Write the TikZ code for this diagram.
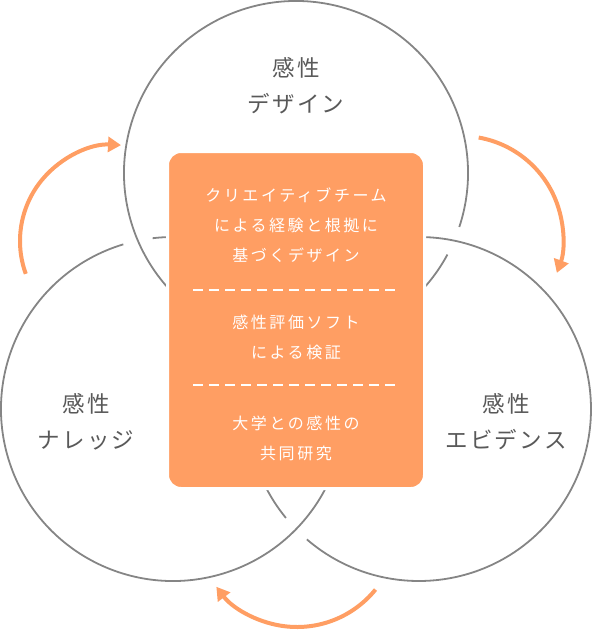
\documentclass[tikz,border=0pt]{standalone}
\usepackage{fontspec}
\setmainfont{Noto Sans CJK JP}
\newfontfamily\boxfont[LetterSpace=16]{Noto Sans CJK JP}
\newfontfamily\ringfont[LetterSpace=10]{Noto Sans CJK JP}
\usetikzlibrary{calc,arrows.meta}
\definecolor{ringgray}{HTML}{858585}
\definecolor{labelgray}{HTML}{595959}
\definecolor{kansei}{HTML}{FF9E63}
\def\ringarc[#1](#2)(#3:#4:#5){\draw[#1] ($(#2)+(#3:#5)$) arc[start angle=#3, end angle=#4, radius=#5];}

\begin{document}
\begin{tikzpicture}[x=1pt, y=1pt,
    ring/.style={draw=ringgray, line width=1.8pt},
    cycle/.style={draw=kansei, line width=4pt, -{Triangle[length=13pt, width=15pt]}},
    panel/.style={fill=kansei, draw=white, line width=3pt, rounded corners=13.5pt,
        minimum width=257pt, minimum height=337pt},
    panelsep/.style={draw=white, line width=1.4pt, dash pattern=on 10pt off 6pt},
    paneltext/.style={text=white, align=center, font=\boxfont\fontsize{16}{30}\selectfont},
    ringlabel/.style={text=labelgray, align=center, font=\ringfont\fontsize{22.5}{36}\selectfont}]
			%%%%% START %%%%%
			\useasboundingbox (0, 0) rectangle (592, -630);
			
			\coordinate (cTop) at (296, -173);
			\coordinate (cLeft) at (173, -409);
			\coordinate (cRight) at (419, -409);
			
			% three rings, each one broken where it passes under the next
			\ringarc[ring](cTop)(-18.3:331.7:172pt)
			\ringarc[ring](cLeft)(106.8:456.8:172pt)
			\ringarc[ring](cRight)(229.3:579.3:172pt)
			
			% cycle arrows
			\coordinate (aLeft) at (116, -241);
			\coordinate (aRight) at (461, -238);
			\coordinate (aBottom) at (297, -526);
			\ringarc[cycle](aLeft)(200:87:96pt)
			\ringarc[cycle](aRight)(80:-20:102pt)
			\ringarc[cycle](aBottom)(-39:-143:101pt)
			
			% centre panel
			\node[panel] (panel) at (296, -320) {};
			\draw[panelsep] (193, -290) -- (395, -290);
			\draw[panelsep] (193, -385) -- (395, -385);
			\node[paneltext] (design) at (296, -225) {クリエイティブチーム\\による経験と根拠に\\基づくデザイン};
			\node[paneltext] (soft) at (296, -337.5) {感性評価ソフト\\による検証};
			\node[paneltext] (univ) at (296, -438) {大学との感性の\\共同研究};
			
			% ring labels
			\node[ringlabel] (lblDesign) at (296, -85.5) {感性\\デザイン};
			\node[ringlabel] (lblKnow) at (86, -421.5) {感性\\ナレッジ};
			\node[ringlabel] (lblEvid) at (506, -421.5) {感性\\エビデンス};
			
			%%%%% END %%%%%
\end{tikzpicture}
\end{document}
